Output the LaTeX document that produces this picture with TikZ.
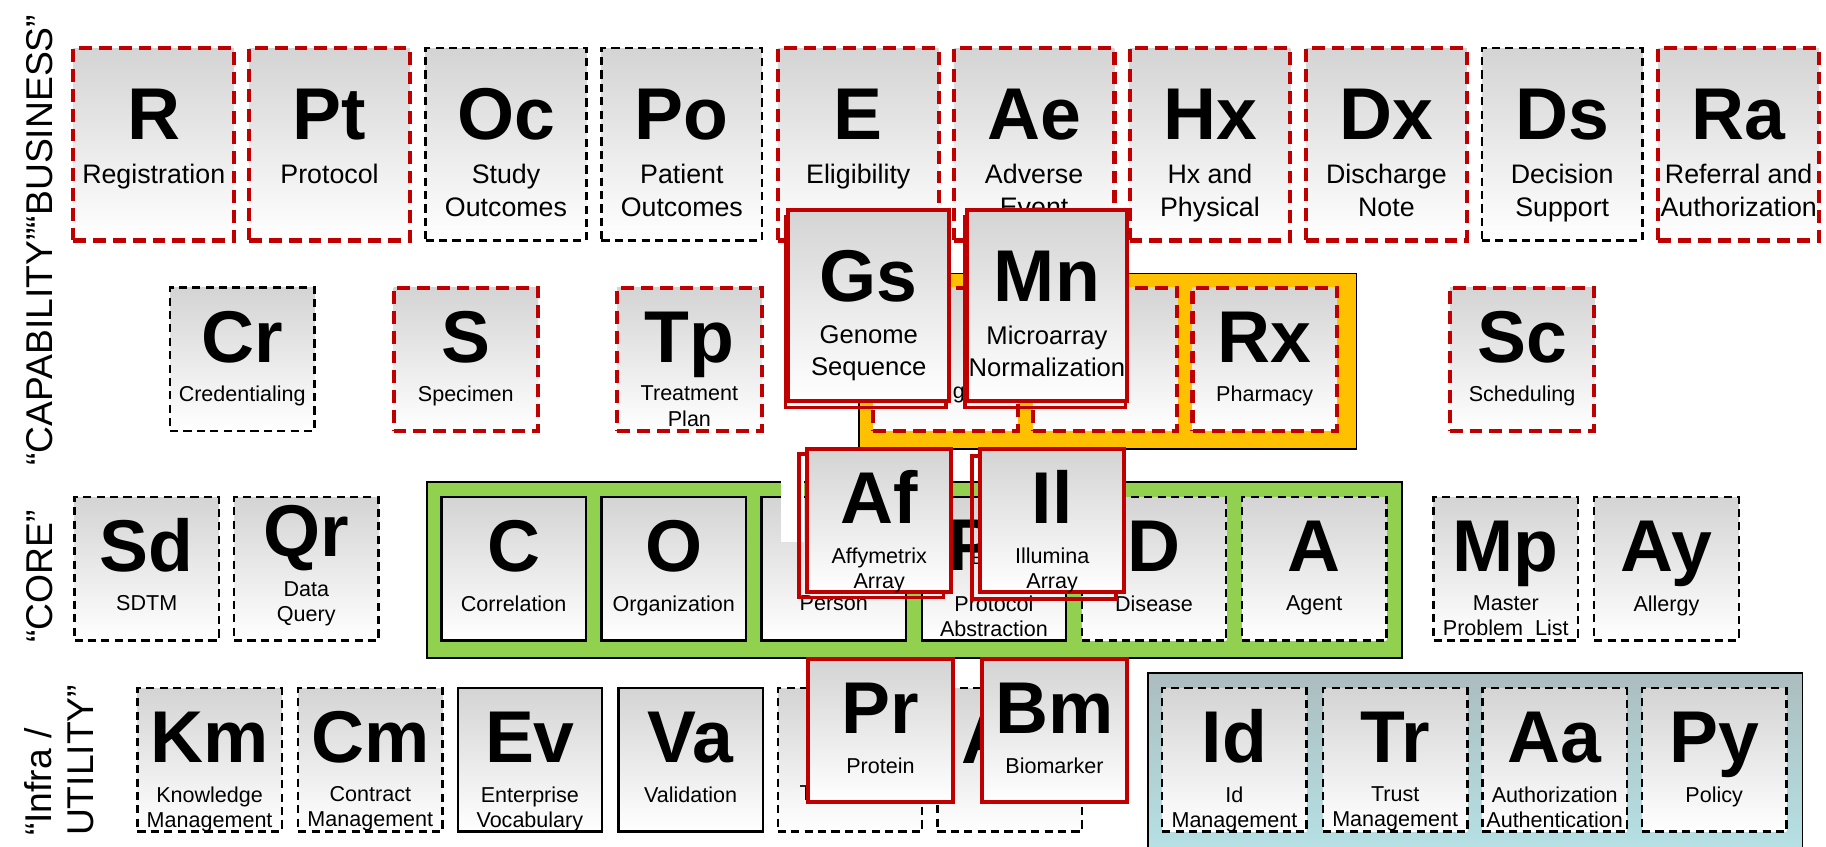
\documentclass[tikz,border=0pt]{standalone}
\usepackage{fontspec}
\setmainfont{Liberation Sans}

\definecolor{cellred}{RGB}{192,0,0}
\definecolor{cellgray}{RGB}{212,212,212}
\definecolor{coreorange}{RGB}{255,192,0}
\definecolor{coregreen}{RGB}{146,208,80}
\definecolor{infratop}{RGB}{172,189,190}
\definecolor{infrabot}{RGB}{182,227,231}

% large element (first row): [label options]{border}{name}{left}{top}{symbol}{label}
\newcommand{\bigcell}[7][]{%
  \node[cell, minimum width=138pt, minimum height=165pt, #2] (#3) at (#4,#5) {};
  \node[sym] (#3-sym) at (#4+69,#5+78.5) {#6};
  \node[lbl, font=\fontsize{23}{28}\selectfont, #1] (#3-lbl) at (#4+69,#5+99.3) {#7};
}
% small element: [label offset]{border}{name}{left}{top}{symbol}{label}
\newcommand{\cell}[7][84.4]{%
  \node[cell, minimum width=124pt, minimum height=123pt, #2] (#3) at (#4,#5) {};
  \node[sym] (#3-sym) at (#4+62,#5+64) {#6};
  \node[lbl] (#3-lbl) at (#4+62,#5+#1) {#7};
}

\begin{document}
\begin{tikzpicture}[x=1pt, y=-1pt,
  cell/.style={anchor=north west, inner sep=0pt, outer sep=0pt, top color=cellgray, bottom color=white},
  reddash/.style={draw=cellred, line width=3.5pt, dash pattern=on 11pt off 6pt},
  blackdash/.style={draw=black, line width=2pt, dash pattern=on 7pt off 4.5pt},
  blackline/.style={draw=black, line width=2pt},
  redline/.style={draw=cellred, line width=3.5pt},
  echo/.style={draw=cellred, line width=3pt, anchor=north west, inner sep=0pt},
  band/.style={draw=black, line width=1.5pt, anchor=north west, inner sep=0pt},
  sym/.style={anchor=base, inner sep=0pt, font=\fontsize{63}{70}\selectfont\bfseries},
  lbl/.style={anchor=north, inner sep=0pt, align=center, font=\fontsize{18.5}{21.5}\selectfont},
  side/.style={rotate=90, inner sep=0pt, font=\fontsize{32}{36}\selectfont}]

\useasboundingbox (0,0) rectangle (1568,726.5);

% side titles
\node[side, anchor=base west] (business) at (45,400) {“CAPABILITY”“BUSINESS”};
\node[side, anchor=base west] (core) at (45,552) {“CORE”};
\node[side, anchor=north west, align=left] (infra) at (21,718) {“Infra /\\UTILITY”};

% business row
\bigcell{reddash}{R}{63}{41.5}{R}{Registration}
\bigcell{reddash}{Pt}{214}{41.5}{Pt}{Protocol}
\bigcell{blackdash}{Oc}{365.5}{41.5}{Oc}{Study\\Outcomes}
\bigcell{blackdash}{Po}{516.5}{41.5}{Po}{Patient\\Outcomes}
\bigcell{reddash}{E}{668}{41.5}{E}{Eligibility}
\bigcell{reddash}{Ae}{819}{41.5}{Ae}{Adverse\\Event}
\bigcell{reddash}{Hx}{970}{41.5}{Hx}{Hx and\\Physical}
\bigcell{reddash}{Dx}{1121.5}{41.5}{Dx}{Discharge\\Note}
\bigcell{blackdash}{Ds}{1272.5}{41.5}{Ds}{Decision\\Support}
\bigcell{reddash}{Ra}{1424}{41.5}{Ra}{Referral and\\Authorization}

% capability row
\cell{blackdash}{Cr}{146}{247}{Cr}{Credentialing}
\cell{reddash}{S}{338}{247}{S}{Specimen}
\cell{reddash}{Tp}{530}{247}{Tp}{Treatment\\Plan}
\node[band, fill=coreorange, minimum width=427pt, minimum height=151pt] (capband) at (737,234) {};
\cell{reddash}{Gbox}{750}{247}{}{}
\cell{reddash}{Mbox}{887}{247}{}{}
\cell{reddash}{Rx}{1024}{247}{Rx}{Pharmacy}
\cell{reddash}{Sc}{1245}{247}{Sc}{Scheduling}

% core row
\cell{blackdash}{Sd}{64}{427}{Sd}{SDTM}
\cell[72.4]{blackdash}{Qr}{201}{427}{}{Data\\Query}
\node[sym] (Qr-top) at (263,478) {Qr};
\node[band, fill=coregreen, minimum width=837pt, minimum height=151pt] (coreband) at (366,413) {};
\cell{blackline}{C}{379}{427}{C}{Correlation}
\cell{blackline}{O}{516.5}{427}{O}{Organization}
\cell{blackline}{Pe}{654}{427}{}{Person}
\cell{blackline}{Pa}{791.5}{427}{}{Protocol\\Abstraction}
\cell{blackdash}{D}{929}{427}{D}{Disease}
\cell{blackdash}{A}{1066.5}{427}{A}{Agent}
\cell{blackdash}{Mp}{1231}{427}{Mp}{Master\\Problem~~List}
\cell{blackdash}{Ay}{1369}{427}{Ay}{Allergy}

% infra row
\cell{blackdash}{Km}{118}{591}{Km}{Knowledge\\Management}
\cell{blackdash}{Cm}{256}{591}{Cm}{Contract\\Management}
\cell{blackline}{Ev}{393}{591}{Ev}{Enterprise\\Vocabulary}
\cell{blackline}{Va}{531}{591}{Va}{Validation}
\cell{blackdash}{Tbox}{668}{591}{}{}
\cell{blackdash}{Abox}{805}{591}{}{}
\node[band, top color=infratop, bottom color=infrabot, minimum width=562pt, minimum height=160pt] (infraband) at (985,577) {};
\cell{blackdash}{Id}{998}{591}{Id}{Id\\Management}
\cell{blackdash}{Tr}{1136}{591}{Tr}{Trust\\Management}
\cell{blackdash}{Aa}{1273}{591}{Aa}{Authorization\\Authentication}
\cell{blackdash}{Py}{1410}{591}{Py}{Policy}

% what shows of the covered elements
\node[sym, anchor=base west] (Pa-part) at (813.8,490) {P};
\node[inner sep=0pt, anchor=base west, font=\fontsize{16}{18}\selectfont] (Pa-mark) at (834,485) {E};
\node[lbl, anchor=base west] (Gbox-part) at (818,342.5) {g};
\node[lbl, anchor=base west] (Tbox-part) at (686.5,687.5) {T};
\node[sym, anchor=base west] (Abox-part) at (825.5,655.5) {A};
\fill[white] (671,405) rectangle (690,465.5);

% genomics elements on top
\node[echo, minimum width=138pt, minimum height=164pt] (Gs-echo) at (673,184.5) {};
\bigcell[font=\fontsize{22}{27.5}\selectfont]{redline, minimum height=164pt}{Gs}{677}{180}{Gs}{Genome\\Sequence}
\node[echo, minimum width=138pt, minimum height=164pt] (Mn-echo) at (827,184.5) {};
\bigcell[font=\fontsize{22}{27.5}\selectfont]{redline, minimum height=164pt}{Mn}{830}{180}{Mn}{Microarray\\Normalization}
\node[echo, minimum width=124pt, minimum height=123pt] (Af-echo) at (684.5,388.5) {};
\cell{redline}{Af}{693}{385.5}{Af}{Affymetrix\\Array}
\node[echo, minimum width=124pt, minimum height=123pt] (Il-echo) at (833,390) {};
\cell{redline}{Il}{841.5}{385.5}{Il}{Illumina\\Array}
\cell{redline}{Pr}{694}{566}{Pr}{Protein}
\cell{redline}{Bm}{843.5}{566}{Bm}{Biomarker}

\end{tikzpicture}
\end{document}
